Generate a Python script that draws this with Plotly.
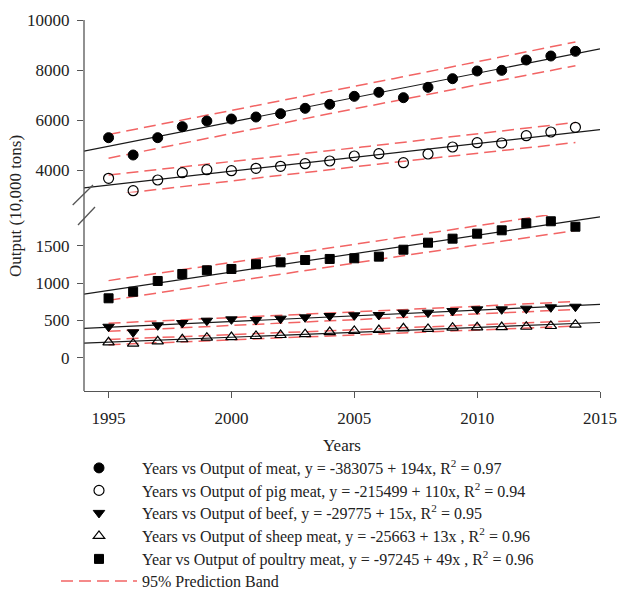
import numpy as np
import plotly.graph_objects as go

years = list(range(1995, 2015))
meat = [5293, 4600, 5293, 5733, 5960, 6040, 6120, 6253, 6467, 6627,
        6947, 7107, 6893, 7307, 7653, 7960, 7987, 8400, 8560, 8747]
pig = [3667, 3173, 3600, 3893, 4013, 3973, 4067, 4147, 4253, 4360,
       4560, 4653, 4293, 4640, 4920, 5093, 5080, 5373, 5520, 5707]
beef = [415, 340, 434, 465, 496, 514, 505, 523, 541, 559,
        568, 572, 603, 603, 626, 648, 648, 657, 675, 683]
sheep = [206, 188, 220, 247, 268, 277, 291, 304, 316, 344,
         358, 371, 394, 385, 402, 407, 411, 415, 425, 442]
poultry = [796, 884, 1028, 1122, 1171, 1189, 1252, 1278, 1309, 1323,
           1332, 1354, 1447, 1541, 1595, 1662, 1707, 1801, 1828, 1755]

names = [
    "Years vs Output of meat, y = -383075 + 194x, R<sup>2</sup> = 0.97",
    "Years vs Output of pig meat, y = -215499 + 110x, R<sup>2</sup> = 0.94",
    "Years vs Output of beef, y = -29775 + 15x, R<sup>2</sup> = 0.95",
    "Years vs Output of sheep meat, y = -25663 + 13x , R<sup>2</sup> = 0.96",
    "Year vs Output of poultry meat, y = -97245 + 49x , R<sup>2</sup> = 0.96",
]
band_name = "95% Prediction Band"
x_title = "Years"
y_title = "Output (10,000 tons)"
x_ticks = [1995, 2000, 2005, 2010, 2015]
upper_ticks = [4000, 6000, 8000, 10000]
lower_ticks = [0, 500, 1000, 1500]

FONT = "Liberation Serif, Times New Roman, serif"
LINE = "#1a1a1a"
BAND = "#f26464"
AX = "#555555"
TXT = "#222222"

series = [
    (meat, "y", dict(symbol="circle", color="black", size=10, line=dict(color="black", width=1))),
    (pig, "y", dict(symbol="circle-open", color="black", size=10, line=dict(color="black", width=1.2))),
    (beef, "y2", dict(symbol="triangle-down", color="black", size=10, line=dict(color="black", width=1))),
    (sheep, "y2", dict(symbol="triangle-up-open", color="black", size=10, line=dict(color="black", width=1.2))),
    (poultry, "y2", dict(symbol="square", color="black", size=9, line=dict(color="black", width=1))),
]

fig = go.Figure()
x = np.array(years, dtype=float)
n = len(x)
t_crit = 2.101  # t(0.975, df=18)
xline = np.array([1994.0, 2015.0])
xband = np.linspace(x.min(), x.max(), 60)

for vals, yax, mk in series:
    yv = np.array(vals, dtype=float)
    b, a = np.polyfit(x, yv, 1)
    resid = yv - (a + b * x)
    s = np.sqrt(np.sum(resid ** 2) / (n - 2))
    sxx = np.sum((x - x.mean()) ** 2)
    half = t_crit * s * np.sqrt(1 + 1 / n + (xband - x.mean()) ** 2 / sxx)
    yb = a + b * xband
    for sign in (1, -1):
        fig.add_trace(go.Scatter(x=xband, y=yb + sign * half, yaxis=yax, mode="lines",
                                 line=dict(color=BAND, width=1.5, dash="12px,6px"),
                                 showlegend=False, hoverinfo="skip"))
    fig.add_trace(go.Scatter(x=xline, y=a + b * xline, yaxis=yax, mode="lines",
                             line=dict(color=LINE, width=1.2), showlegend=False,
                             hoverinfo="skip"))

legend_ids = ["legend", "legend2", "legend3", "legend4", "legend5", "legend6"]

for (vals, yax, mk), nm, lg in zip(series, names, legend_ids):
    fig.add_trace(go.Scatter(x=years, y=vals, yaxis=yax, mode="markers", marker=mk,
                             name=nm, cliponaxis=False, legend=lg))

fig.add_trace(go.Scatter(x=[None], y=[None], mode="lines", name=band_name,
                         legend=legend_ids[5],
                         line=dict(color=BAND, width=1.5, dash="12px,6px")))

W, H = 617, 599
L, R, T, B = 84, 17, 20, 208
ph = H - T - B
UP_MIN = 3100
up_bot_px = 20 + (10000 - UP_MIN) / 40.0
up_bot = (H - B - up_bot_px) / ph
lo_top = (H - B - 215) / ph

def px(xp):
    return (xp - L) / (W - L - R)

def py(yp):
    return (H - B - yp) / ph

tickfont = dict(family=FONT, size=17, color=TXT)

item_centers = [467, 489.5, 512, 535, 558, 580]
legends = {}
for lg, c in zip(legend_ids, item_centers):
    legends[lg] = dict(x=px(56), y=py(c - 16), xanchor="left", yanchor="top",
                       font=dict(family=FONT, size=16, color=TXT),
                       itemwidth=76, tracegroupgap=0, bgcolor="rgba(0,0,0,0)")

fig.update_layout(
    width=W, height=H, margin=dict(l=L, r=R, t=T, b=B, autoexpand=False),
    paper_bgcolor="white", plot_bgcolor="white",
    font=dict(family=FONT, size=17, color=TXT),
    xaxis=dict(range=[1994, 2015], domain=[0, 1], anchor="y2", showline=True,
               linecolor=AX, linewidth=1.3, ticks="outside", ticklen=6, tickcolor=AX,
               tickvals=x_ticks, ticktext=[str(v) for v in x_ticks], tickfont=tickfont,
               ticklabelstandoff=5, showgrid=False, zeroline=False,
               title=dict(text=x_title, standoff=12, font=dict(family=FONT, size=17, color=TXT))),
    yaxis=dict(range=[UP_MIN, 10000], domain=[up_bot, 1], anchor="x", showline=False,
               ticks="outside", ticklen=6, tickcolor=AX, tickvals=upper_ticks,
               ticktext=[str(v) for v in upper_ticks], tickfont=tickfont,
               ticklabelstandoff=4, showgrid=False, zeroline=False),
    yaxis2=dict(range=[-446, 1912], domain=[0, lo_top], anchor="x", showline=False,
                ticks="outside", ticklen=6, tickcolor=AX, tickvals=lower_ticks,
                ticktext=[str(v) for v in lower_ticks], tickfont=tickfont,
                ticklabelstandoff=4, showgrid=False, zeroline=False),
    showlegend=True,
    shapes=[
        dict(type="line", xref="paper", yref="paper", x0=0, x1=0, y0=0, y1=1,
             line=dict(color=AX, width=1.3)),
        dict(type="line", xref="paper", yref="paper", x0=px(72.7), y0=py(205),
             x1=px(93), y1=py(185), line=dict(color=AX, width=1.3)),
        dict(type="line", xref="paper", yref="paper", x0=px(78), y0=py(225),
             x1=px(95), y1=py(207), line=dict(color=AX, width=1.3)),
    ],
    annotations=[
        dict(text=y_title, xref="paper", yref="paper", x=px(15), y=py(206),
             textangle=-90, showarrow=False, font=dict(family=FONT, size=17, color=TXT),
             xanchor="center", yanchor="middle"),
    ],
    **legends,
)

fig.write_html("out.html")
